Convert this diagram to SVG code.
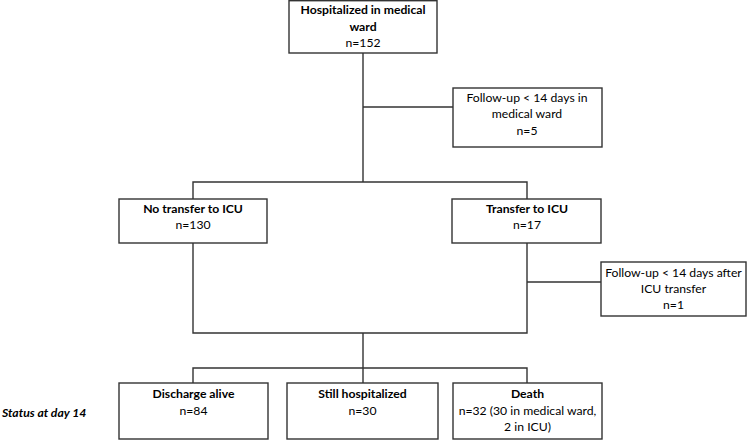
<svg xmlns="http://www.w3.org/2000/svg" width="750" height="440" viewBox="0 0 750 440">
<style>
.box{fill:#fff;stroke:#333;stroke-width:1.4}
.ln{fill:none;stroke:#333;stroke-width:1.4}
text{font-family:Lato,"Open Sans","Liberation Sans",sans-serif;font-size:12.2px;fill:#000;text-anchor:middle}
.b{font-weight:bold}
.st{font-weight:bold;font-style:italic;text-anchor:start}
</style>
<rect width="750" height="440" fill="#fff"/>
<g id="connectors">
<path class="ln" d="M363 53V182M363 107H453M193 199V182H527V199"/>
<path class="ln" d="M193 243V333H527V243M527 282H601"/>
<path class="ln" d="M363 333V368M193 383V368H527V383M363 368V383"/>
</g>
<g id="n-hosp">
<rect class="box" x="289" y="0.7" width="148" height="52.3"/>
<text x="363" y="14" class="b">Hospitalized in medical</text>
<text x="363" y="31" class="b">ward</text>
<text x="363" y="47">n=152</text>
</g>
<g id="n-follow1">
<rect class="box" x="453" y="88" width="149" height="59"/>
<text x="527" y="102">Follow-up &lt; 14 days in</text>
<text x="527" y="118">medical ward</text>
<text x="527" y="135">n=5</text>
</g>
<g id="n-notransfer">
<rect class="box" x="119" y="199" width="148" height="44"/>
<text x="193" y="213" class="b">No transfer to ICU</text>
<text x="193" y="229">n=130</text>
</g>
<g id="n-transfer">
<rect class="box" x="452" y="199" width="149" height="44"/>
<text x="527" y="213" class="b">Transfer to ICU</text>
<text x="527" y="229">n=17</text>
</g>
<g id="n-follow2">
<rect class="box" x="601" y="262" width="145" height="54"/>
<text x="673.5" y="277">Follow-up &lt; 14 days after</text>
<text x="673.5" y="293">ICU transfer</text>
<text x="673.5" y="309">n=1</text>
</g>
<g id="n-discharge">
<rect class="box" x="119" y="383" width="149" height="56"/>
<text x="193.5" y="398" class="b">Discharge alive</text>
<text x="193.5" y="415">n=84</text>
</g>
<g id="n-still">
<rect class="box" x="287" y="383" width="151" height="56"/>
<text x="362.5" y="398" class="b">Still hospitalized</text>
<text x="362.5" y="415">n=30</text>
</g>
<g id="n-death">
<rect class="box" x="453" y="383" width="149" height="56"/>
<text x="527.5" y="398" class="b">Death</text>
<text x="527.5" y="415">n=32 (30 in medical ward,</text>
<text x="527.5" y="431">2 in ICU)</text>
</g>
<text x="2" y="417" class="st">Status at day 14</text>
</svg>
